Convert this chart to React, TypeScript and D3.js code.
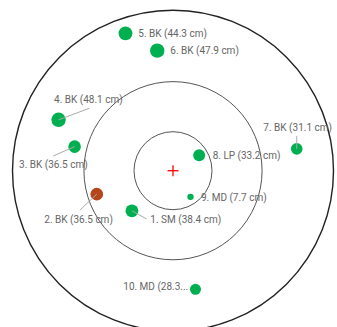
import React from "react";
import * as d3 from "d3";

const labels = [
  "1. SM (38.4 cm)", "2. BK (36.5 cm)", "3. BK (36.5 cm)", "4. BK (48.1 cm)",
  "5. BK (44.3 cm)", "6. BK (47.9 cm)", "7. BK (31.1 cm)", "8. LP (33.2 cm)",
  "9. MD (7.7 cm)", "10. MD (28.3...",
];
const sizes = [38.4, 36.5, 36.5, 48.1, 44.3, 47.9, 31.1, 33.2, 7.7, 28.3];
const xs = [-25.6, -47.5, -61.3, -71.3, -29.6, -9.8, 77.1, 16.3, 10.9, 14.0];
const ys = [25.0, 14.6, -15.0, -31.7, -85.6, -74.8, -13.6, -9.6, 16.3, 73.9];
const highlighted = [false, true, false, false, false, false, false, false, false, false];
const ringRadii = [24.3, 55.5, 100];
const labelX = [-14.1, -80.2, -95.9, -74.1, -21.6, -1.7, 56.3, 24.7, 17.4, 9.5];
const labelY = [30.7, 30.3, -3.6, -44.4, -85.4, -74.6, -27.0, -9.2, 16.6, 72.3];
const anchors = ["start", "start", "start", "start", "start", "start", "start", "start", "start", "end"];
const leaders = [true, true, true, true, false, false, true, false, false, false];
const leaderEndX = [-16.4, -57.9, -74.6, -52.1, 0, 0, 77.1, 0, 0, 0];
const leaderEndY = [30.1, 24.5, -9.2, -38.9, 0, 0, -21.6, 0, 0, 0];

export default function App() {
  const W = 337, H = 327;
  const cx = 173, cy = 170.7;
  const x = d3.scaleLinear().domain([-100, 100]).range([cx - 160.5, cx + 160.5]);
  const y = d3.scaleLinear().domain([-100, 100]).range([cy - 160.5, cy + 160.5]);
  const k = 1.605;
  const r = d3.scaleSqrt().domain([0, 48.1]).range([0, 7.2]);
  return (
    <svg width={W} height={H} style={{ position: "absolute", left: 0, top: 0 }}>
      <rect width={W} height={H} fill="#fff" />
      {ringRadii.map((rr, i) => (
        <circle key={i} cx={x(0)} cy={y(0)} r={rr * k} fill="none"
          stroke={i === 2 ? "#222" : "#555"} strokeWidth={i === 2 ? 1.4 : 1} />
      ))}
      <g stroke="#ff0000" strokeWidth={1.3}>
        <line x1={x(0) - 5.5} x2={x(0) + 5.5} y1={y(0)} y2={y(0)} />
        <line x1={x(0)} x2={x(0)} y1={y(0) - 5.5} y2={y(0) + 5.5} />
      </g>
      {sizes.map((s, i) => (
        <circle key={"p" + i} cx={x(xs[i])} cy={y(ys[i])} r={Math.max(3.2, r(s))}
          fill={highlighted[i] ? "#B5461A" : "#00B050"} />
      ))}
      {sizes.map((s, i) => leaders[i] ? (
        <line key={"l" + i} x1={x(xs[i])} y1={y(ys[i])} x2={x(leaderEndX[i])} y2={y(leaderEndY[i])}
          stroke="#aaa" strokeWidth={1} />
      ) : null)}
      {labels.map((t, i) => (
        <text key={"t" + i} x={x(labelX[i])} y={y(labelY[i])} dy="0.35em"
          textAnchor={anchors[i] as any} fontFamily="Roboto, sans-serif" fontSize={10} fill="#666">
          {t}
        </text>
      ))}
    </svg>
  );
}
